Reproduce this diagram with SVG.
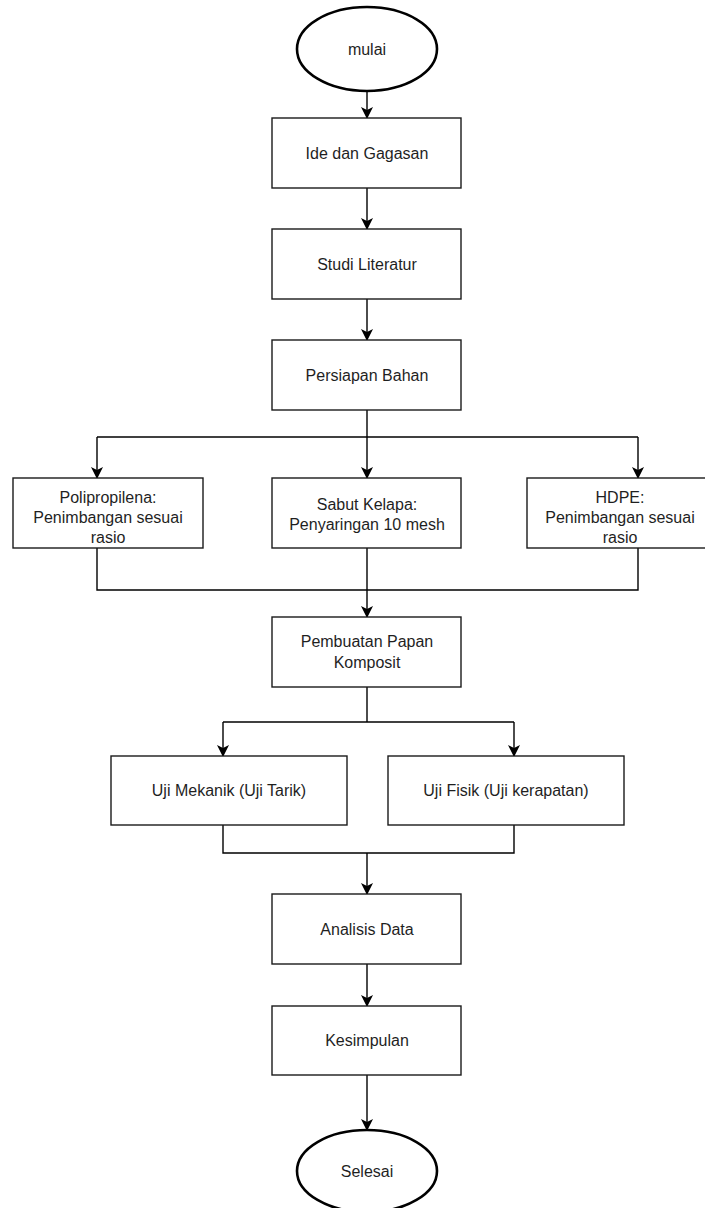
<svg xmlns="http://www.w3.org/2000/svg" width="705" height="1208" viewBox="0 0 705 1208">
<style>
.box{fill:#fff;stroke:#1a1a1a;stroke-width:1.4}
.term{fill:#fff;stroke:#000;stroke-width:2.6}
.t{font-family:"Liberation Sans",Arial,sans-serif;font-size:16px;fill:#1f1f1f;text-anchor:middle}
.c{fill:none;stroke:#000;stroke-width:1.4}
</style>
<defs>
<marker id="arr" viewBox="0 0 12 12" refX="11" refY="6" markerWidth="12" markerHeight="12" markerUnits="userSpaceOnUse" orient="auto">
<path d="M0,0 L12,6 L0,12 L3,6 z" fill="#000"/>
</marker>
</defs>
<rect width="705" height="1208" fill="#fff"/>
<g id="connectors">
<path class="c" d="M367,91 V118" marker-end="url(#arr)"/>
<path class="c" d="M367,188 V229" marker-end="url(#arr)"/>
<path class="c" d="M367,299 V340" marker-end="url(#arr)"/>
<path class="c" d="M367,410 V437"/>
<path class="c" d="M97,437 H638"/>
<path class="c" d="M97,437 V478" marker-end="url(#arr)"/>
<path class="c" d="M367,437 V478" marker-end="url(#arr)"/>
<path class="c" d="M638,437 V478" marker-end="url(#arr)"/>
<path class="c" d="M97,548 V590 H638 V548"/>
<path class="c" d="M367,548 V617" marker-end="url(#arr)"/>
<path class="c" d="M367,687 V722"/>
<path class="c" d="M223,722 H514"/>
<path class="c" d="M223,722 V756" marker-end="url(#arr)"/>
<path class="c" d="M514,722 V756" marker-end="url(#arr)"/>
<path class="c" d="M223,825 V853 H514 V825"/>
<path class="c" d="M367,853 V894" marker-end="url(#arr)"/>
<path class="c" d="M367,964 V1006" marker-end="url(#arr)"/>
<path class="c" d="M367,1075 V1130" marker-end="url(#arr)"/>
</g>
<g id="mulai">
<ellipse class="term" cx="367" cy="49" rx="70" ry="42"/>
<text class="t" x="367" y="55">mulai</text>
</g>
<g id="ide">
<rect class="box" x="272" y="118" width="189" height="70"/>
<text class="t" x="367" y="159">Ide dan Gagasan</text>
</g>
<g id="studi">
<rect class="box" x="272" y="229" width="189" height="70"/>
<text class="t" x="367" y="270">Studi Literatur</text>
</g>
<g id="persiapan">
<rect class="box" x="272" y="340" width="189" height="70"/>
<text class="t" x="367" y="381">Persiapan Bahan</text>
</g>
<g id="polipropilena">
<rect class="box" x="13" y="478" width="190" height="70"/>
<text class="t" x="108" y="503">Polipropilena:</text>
<text class="t" x="108" y="523">Penimbangan sesuai</text>
<text class="t" x="108" y="543">rasio</text>
</g>
<g id="sabut">
<rect class="box" x="272" y="478" width="189" height="70"/>
<text class="t" x="367" y="510">Sabut Kelapa:</text>
<text class="t" x="367" y="530">Penyaringan 10 mesh</text>
</g>
<g id="hdpe">
<rect class="box" x="527" y="478" width="190" height="70"/>
<text class="t" x="620" y="503">HDPE:</text>
<text class="t" x="620" y="523">Penimbangan sesuai</text>
<text class="t" x="620" y="543">rasio</text>
</g>
<g id="pembuatan">
<rect class="box" x="272" y="617" width="189" height="70"/>
<text class="t" x="367" y="647">Pembuatan Papan</text>
<text class="t" x="367" y="668">Komposit</text>
</g>
<g id="mekanik">
<rect class="box" x="111" y="756" width="236" height="69"/>
<text class="t" x="229" y="796">Uji Mekanik (Uji Tarik)</text>
</g>
<g id="fisik">
<rect class="box" x="388" y="756" width="236" height="69"/>
<text class="t" x="506" y="796">Uji Fisik (Uji kerapatan)</text>
</g>
<g id="analisis">
<rect class="box" x="272" y="894" width="189" height="70"/>
<text class="t" x="367" y="935">Analisis Data</text>
</g>
<g id="kesimpulan">
<rect class="box" x="272" y="1006" width="189" height="69"/>
<text class="t" x="367" y="1046">Kesimpulan</text>
</g>
<g id="selesai">
<ellipse class="term" cx="367" cy="1171" rx="70" ry="41"/>
<text class="t" x="367" y="1177">Selesai</text>
</g>
</svg>
